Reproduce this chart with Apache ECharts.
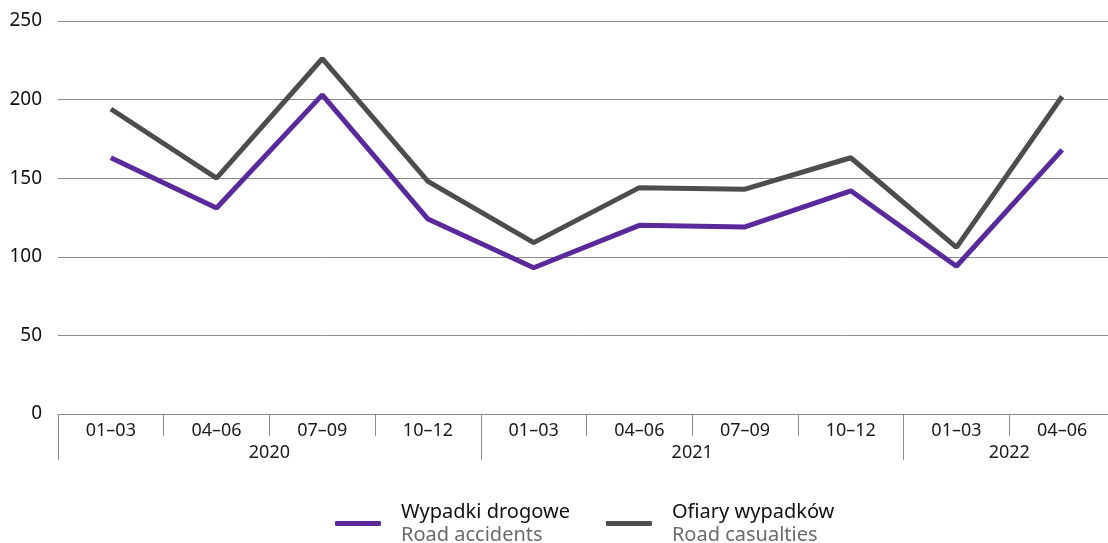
<!DOCTYPE html>
<html>
<head>
<meta charset="utf-8">
<script src="https://cdn.jsdelivr.net/npm/echarts@6/dist/echarts.min.js"></script>
<style>
  html, body { margin: 0; padding: 0; background: #fff; }
  #chart { width: 1108px; height: 543px; }
</style>
</head>
<body>
<div id="chart"></div>
<script>
// quarters, with the year groups under them
var quarters = ['01–03', '04–06', '07–09', '10–12', '01–03', '04–06', '07–09', '10–12', '01–03', '04–06'];
var years = ['2020', '2021', '2022'];
var yearCenters = [2, 6, 9];      // middle of each year group, in quarter units
var yearBounds = [0, 4, 8];       // where each year group starts

var accidents = [163, 131, 203, 124, 93, 120, 119, 142, 94, 168];
var casualties = [194, 150, 226, 148, 109, 144, 143, 163, 106, 202];

var chart = echarts.init(document.getElementById('chart'));
var fontFamily = '"Noto Sans", "Open Sans", sans-serif';

var option = {
  animation: false,
  grid: {
    left: 58,
    width: 1057,
    top: 21,
    bottom: 129,
    containLabel: false,
    outerBoundsMode: 'none'
  },
  xAxis: [{
    type: 'category',
    data: quarters,
    boundaryGap: true,
    axisLine: { lineStyle: { color: '#8c8c8c', width: 1 } },
    axisTick: { show: true, interval: 0, length: 22, lineStyle: { color: '#8c8c8c' } },
    axisLabel: { interval: 0, margin: 8, fontSize: 18, color: '#1a1a1a', fontFamily: fontFamily }
  }, {
    type: 'value',
    min: 0,
    max: 10,
    position: 'bottom',
    splitLine: { show: false },
    axisLine: { show: false },
    axisTick: { show: true, customValues: yearBounds, length: 46, lineStyle: { color: '#8c8c8c' } },
    axisLabel: {
      customValues: yearCenters,
      margin: 30,
      fontSize: 18,
      color: '#1a1a1a',
      fontFamily: fontFamily,
      formatter: function(v) {
        var i = yearCenters.indexOf(v);
        return i >= 0 ? years[i] : '';
      }
    }
  }],
  yAxis: {
    type: 'value',
    min: 0,
    max: 250,
    interval: 50,
    axisLine: { show: false },
    axisTick: { show: false },
    splitLine: { lineStyle: { color: '#8c8c8c', width: 1 } },
    axisLabel: { margin: 16, fontSize: 19, color: '#111', fontFamily: fontFamily }
  },
  legend: {
    bottom: -7,
    left: 330,
    itemWidth: 46,
    itemHeight: 5,
    itemGap: 36,
    icon: 'roundRect',
    data: [
      { name: 'Wypadki drogowe', itemStyle: { color: '#5a2a9c' } },
      { name: 'Ofiary wypadków', itemStyle: { color: '#4d4d4d' } }
    ],
    formatter: function(name) {
      var en = name === 'Wypadki drogowe' ? 'Road accidents' : 'Road casualties';
      return '{a|' + name + '}\n{b|' + en + '}';
    },
    textStyle: {
      fontFamily: fontFamily,
      padding: [0, 0, 0, 15],
      rich: {
        a: { fontSize: 20, color: '#111', lineHeight: 23, fontFamily: fontFamily },
        b: { fontSize: 20, color: '#6b6b6b', lineHeight: 23, fontFamily: fontFamily }
      }
    }
  },
  series: [{
    name: 'Ofiary wypadków',
    type: 'line',
    data: casualties,
    symbol: 'none',
    lineStyle: { color: '#4d4d4d', width: 5 },
    itemStyle: { color: '#4d4d4d' }
  }, {
    name: 'Wypadki drogowe',
    type: 'line',
    data: accidents,
    symbol: 'none',
    lineStyle: { color: '#5a2a9c', width: 5 },
    itemStyle: { color: '#5a2a9c' }
  }]
};

chart.setOption(option);
</script>
</body>
</html>
